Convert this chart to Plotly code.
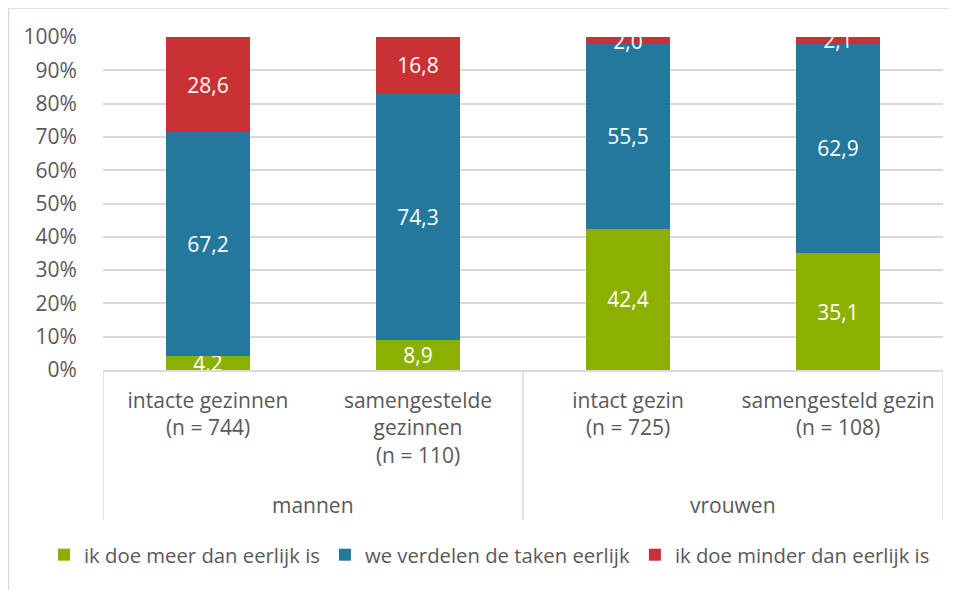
import plotly.graph_objects as go

categories = ["intacte gezinnen<br>(n = 744)", "samengestelde<br>gezinnen<br>(n = 110)",
              "intact gezin<br>(n = 725)", "samengesteld gezin<br>(n = 108)"]
groups = ["mannen", "vrouwen"]
group_members = [[0, 1], [2, 3]]
series_names = ["ik doe meer dan eerlijk is", "we verdelen de taken eerlijk", "ik doe minder dan eerlijk is"]
meer = [4.2, 8.9, 42.4, 35.1]
eerlijk = [67.2, 74.3, 55.5, 62.9]
minder = [28.6, 16.8, 2.0, 2.1]
y_ticks = [0, 10, 20, 30, 40, 50, 60, 70, 80, 90, 100]
y_ticktext = [f"{v}%" for v in y_ticks]

colors = ["#8CB000", "#23789B", "#C93135"]
FONT = "Open Sans"
GRAY = "#595959"
FS = 21
FS_LEG = 20.3

OFF = 8  # page body margin
W, H = 957 - OFF, 590 - OFF
L, T = 103 - OFF, 37 - OFF
R = W - (943 - OFF)
B = H - (370 - OFF)
pw, ph = W - L - R, H - T - B

def px_x(p):
    return (p - OFF - L) / pw

def px_y(p):
    return (370 - p) / ph

xs = list(range(len(categories)))
fig = go.Figure()
for name, vals, c in zip(series_names, [meer, eerlijk, minder], colors):
    fig.add_trace(go.Bar(
        x=xs, y=vals, name=name, marker=dict(color=c, line=dict(width=0)),
        width=0.4, text=vals, texttemplate="%{y:.1f}", textposition="inside",
        insidetextanchor="middle", constraintext="none",
        textfont=dict(color="white", size=FS, family=FONT),
        hoverinfo="skip",
    ))

shapes = []
for xv in [-0.5, 1.5, 3.5]:
    shapes.append(dict(type="line", xref="x", yref="paper", x0=xv, x1=xv,
                       y0=0, y1=px_y(520), line=dict(color="#D9D9D9", width=1.5)))
# chart frame (left/top)
shapes.append(dict(type="line", xref="paper", yref="paper", x0=px_x(8.5), x1=px_x(8.5),
                   y0=px_y(7.5), y1=px_y(600), line=dict(color="#D9D9D9", width=1.5)))
shapes.append(dict(type="line", xref="paper", yref="paper", x0=px_x(8), x1=px_x(970),
                   y0=px_y(8), y1=px_y(8), line=dict(color="#D9D9D9", width=1.5)))

annotations = []
for g, mem in zip(groups, group_members):
    annotations.append(dict(text=g, xref="x", yref="paper", x=sum(mem) / len(mem),
                            y=px_y(505), showarrow=False, yanchor="middle",
                            font=dict(size=FS, color=GRAY, family=FONT)))

fig.update_layout(
    barmode="stack", width=W, height=H,
    margin=dict(l=L, r=R, t=T, b=B, autoexpand=False),
    plot_bgcolor="white", paper_bgcolor="white",
    separators=",.",
    uniformtext=dict(minsize=FS, mode="show"),
    font=dict(family=FONT, size=FS, color=GRAY),
    xaxis=dict(range=[-0.5, 3.5], tickvals=xs, ticktext=categories,
               showgrid=False, zeroline=False, showline=True, linecolor="#D9D9D9",
               linewidth=1.5, ticks="outside", ticklen=11, tickcolor="rgba(0,0,0,0)",
               tickfont=dict(size=FS, color=GRAY, family=FONT), fixedrange=True),
    yaxis=dict(range=[0, 100], tickvals=y_ticks, ticktext=y_ticktext,
               showgrid=True, gridcolor="#D9D9D9", gridwidth=1.5, zeroline=False,
               showline=False, ticks="outside", ticklen=21, tickcolor="rgba(0,0,0,0)",
               tickfont=dict(size=FS, color=GRAY, family=FONT)),
    legend=dict(orientation="h", x=px_x(44), xanchor="left", y=px_y(555), yanchor="middle",
                font=dict(size=FS_LEG, color=GRAY, family=FONT), traceorder="normal",
                itemwidth=30, tracegroupgap=0),
    shapes=shapes, annotations=annotations,
)
fig.write_html("out.html")
